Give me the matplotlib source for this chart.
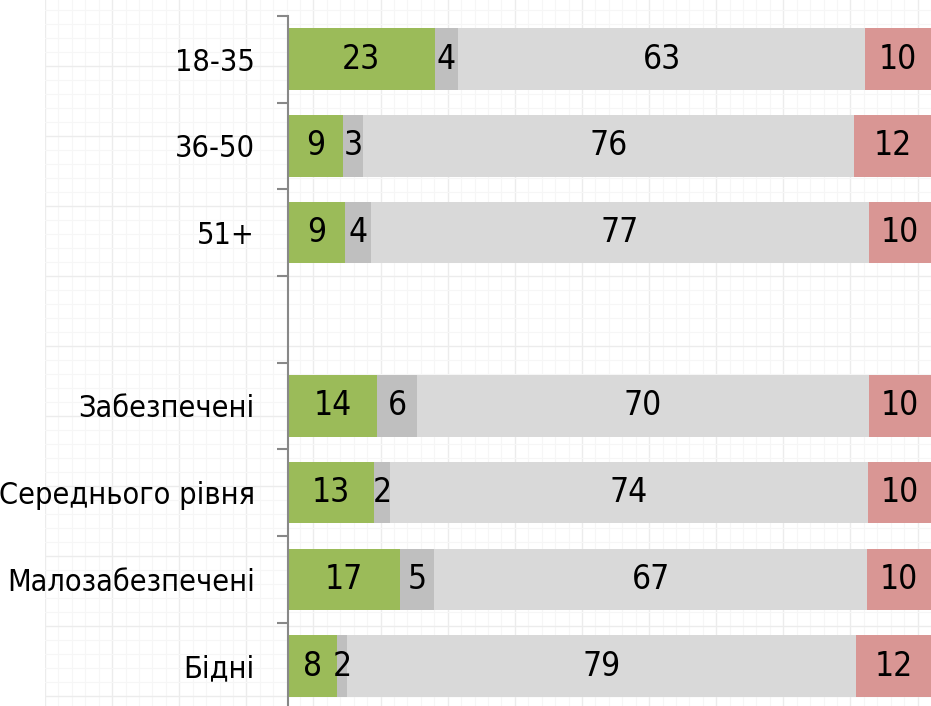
import numpy as np
import matplotlib
matplotlib.use("Agg")
import matplotlib.pyplot as plt

plt.rcParams["font.family"] = ["Liberation Sans Narrow", "DejaVu Sans"]
plt.rcParams["font.stretch"] = "condensed"

# shares in %; labels show the rounded values
categories = ["18-35", "36-50", "51+", "", "Забезпечені", "Середнього рівня",
              "Малозабезпечені", "Бідні"]
positive = [22.8, 8.6, 8.9, np.nan, 13.9, 13.4, 17.4, 7.6]
neutral = [3.6, 3.1, 4.0, np.nan, 6.1, 2.4, 5.3, 1.6]
indifferent = [63.4, 76.4, 77.4, np.nan, 70.4, 74.4, 67.4, 79.2]
negative = [10.2, 11.9, 9.7, np.nan, 9.6, 9.8, 9.9, 11.6]

series = [positive, neutral, indifferent, negative]
colors = ["#9BBB59", "#BFBFBF", "#D9D9D9", "#D99694"]

W, H = 931, 706
fig = plt.figure(figsize=(W / 100, H / 100), dpi=100)

# faint paper-grid background
bg = fig.add_axes([45 / W, 0, 1 - 45 / W, 1], zorder=0)
bg.set_xlim(0, W - 45)
bg.set_ylim(0, H)
bg.set_xticks(np.arange(0, W, 70))
bg.set_yticks(np.arange(10, H, 70))
bg.set_xticks(np.arange(0, W, 14), minor=True)
bg.set_yticks(np.arange(10, H, 14), minor=True)
bg.grid(True, which="major", color="#ececec", linewidth=1.0)
bg.grid(True, which="minor", color="#f6f6f6", linewidth=0.8)
bg.tick_params(which="both", length=0, labelbottom=False, labelleft=False)
for s in bg.spines.values():
    s.set_visible(False)

top_px, bot_px = 15.9, 709.4
ax = fig.add_axes([288 / W, (H - bot_px) / H, 1 - 288 / W, (bot_px - top_px) / H], zorder=1)
ax.patch.set_alpha(0)
y = np.arange(len(categories))
left = np.zeros(len(categories))
for vals, col in zip(series, colors):
    v = np.nan_to_num(np.array(vals, dtype=float))
    bars = ax.barh(y, v, left=left, height=0.71, color=col, edgecolor="none")
    for b, val, l in zip(bars, v, left):
        if val > 0:
            right = min(l + val, 100)
            ax.text((l + right) / 2, b.get_y() + b.get_height() / 2, f"{val:.0f}",
                    ha="center", va="center", fontsize=24, color="black")
    left += v

ax.set_xlim(0, 100)
ax.set_ylim(len(categories) - 0.5, -0.5)
ax.set_xticks([])
ax.set_yticks(np.arange(-0.5, len(categories), 1))
ax.set_yticklabels([])
ax.set_yticks(y, minor=True)
ax.set_yticklabels(categories, minor=True, fontsize=22)
ax.tick_params(axis="y", which="major", length=8, width=1.5, color="#888888")
ax.tick_params(axis="y", which="minor", length=0, pad=24)
for s in ["top", "right", "bottom"]:
    ax.spines[s].set_visible(False)
ax.spines["left"].set_color("#888888")
ax.spines["left"].set_linewidth(1.5)

fig.savefig("out.png", dpi=100)
